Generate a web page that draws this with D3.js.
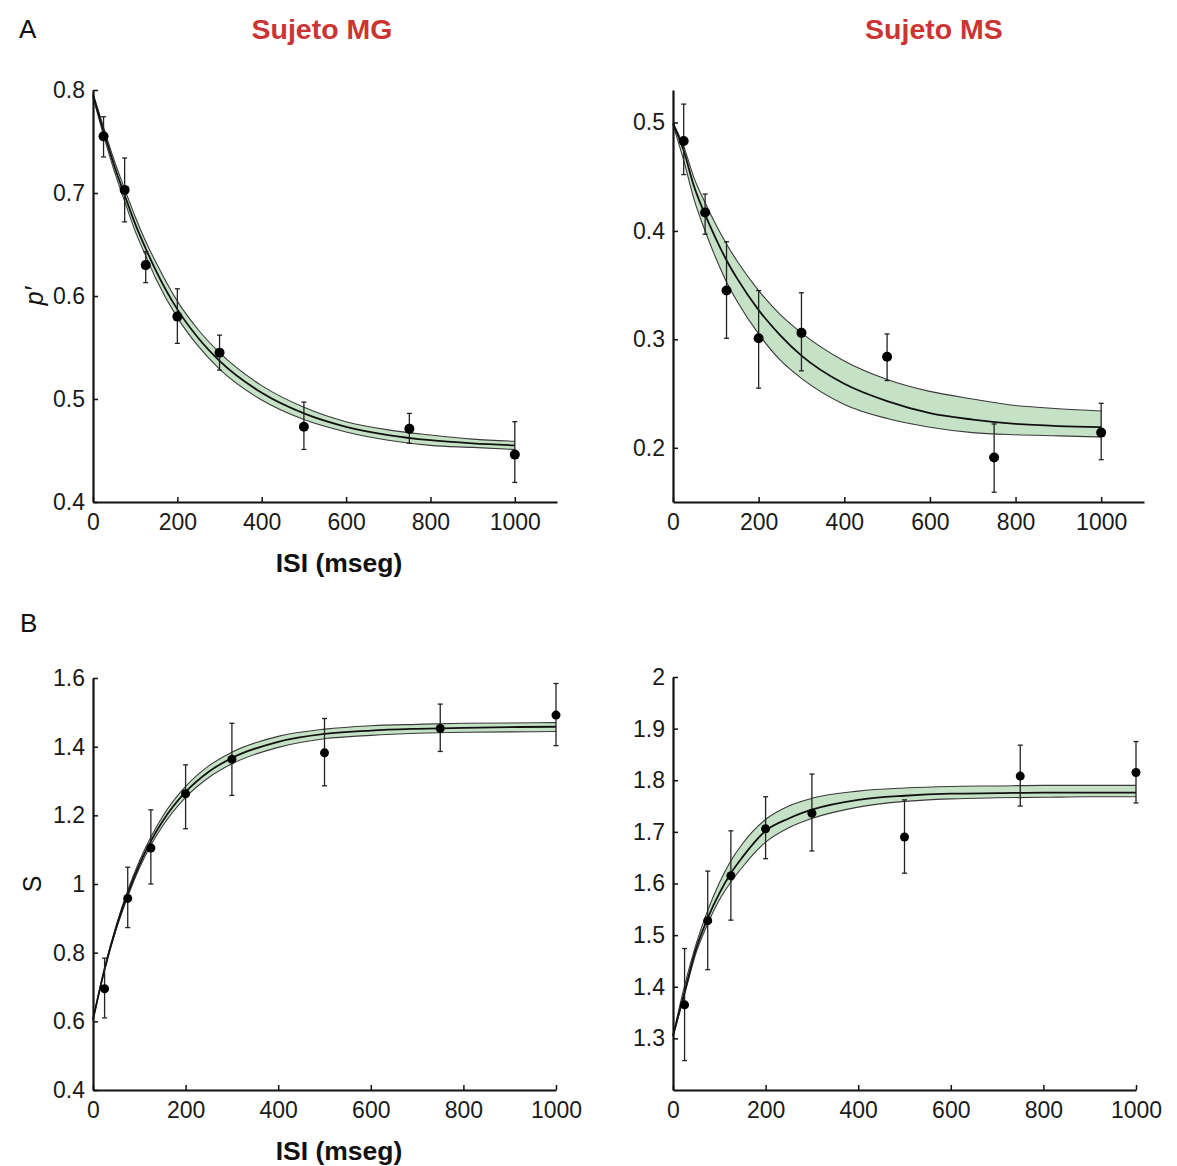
<!DOCTYPE html>
<html>
<head>
<meta charset="utf-8">
<script src="https://cdn.jsdelivr.net/npm/d3@7"></script>
<style>
  body { margin: 0; background: #fff; }
  svg { font-family: "Liberation Sans", Arial, sans-serif; }
</style>
</head>
<body>
<svg id="chart" width="1177" height="1166"></svg>
<script>
// ISI values of the measured points (mseg)
const isi = [25, 75, 125, 200, 300, 500, 750, 1000];
const fitIsi = [0, 25, 50, 75, 100, 125, 150, 200, 250, 300, 400, 500, 600, 700, 800, 900, 1000];
const xTicks = [0, 200, 400, 600, 800, 1000];

// Sujeto MG, p'
const mgPMean = [0.755, 0.703, 0.630, 0.580, 0.545, 0.473, 0.471, 0.446];
const mgPLo = [0.735, 0.672, 0.613, 0.554, 0.528, 0.451, 0.457, 0.419];
const mgPHi = [0.774, 0.734, 0.643, 0.607, 0.562, 0.497, 0.486, 0.478];
const mgPFit = [0.795, 0.760, 0.727, 0.698, 0.670, 0.646, 0.624, 0.587, 0.559, 0.537, 0.506, 0.486, 0.473, 0.465, 0.460, 0.457, 0.455];
const mgPFitHi = [0.797, 0.764, 0.732, 0.704, 0.677, 0.653, 0.632, 0.595, 0.567, 0.545, 0.513, 0.492, 0.478, 0.470, 0.465, 0.461, 0.459];
const mgPFitLo = [0.793, 0.756, 0.722, 0.692, 0.663, 0.639, 0.616, 0.579, 0.551, 0.529, 0.499, 0.480, 0.468, 0.460, 0.455, 0.453, 0.451];
const mgPTicks = [0.4, 0.5, 0.6, 0.7, 0.8];

// Sujeto MS, p'
const msPMean = [0.483, 0.417, 0.345, 0.301, 0.306, 0.284, 0.191, 0.214];
const msPLo = [0.452, 0.397, 0.301, 0.255, 0.271, 0.262, 0.159, 0.189];
const msPHi = [0.517, 0.434, 0.390, 0.345, 0.343, 0.305, 0.222, 0.241];
const msPFit = [0.499, 0.474, 0.440, 0.415, 0.393, 0.373, 0.356, 0.327, 0.304, 0.285, 0.259, 0.243, 0.232, 0.226, 0.222, 0.220, 0.219];
const msPFitHi = [0.500, 0.478, 0.448, 0.426, 0.406, 0.388, 0.372, 0.345, 0.323, 0.306, 0.280, 0.263, 0.252, 0.245, 0.239, 0.236, 0.234];
const msPFitLo = [0.498, 0.465, 0.428, 0.400, 0.375, 0.353, 0.335, 0.305, 0.281, 0.264, 0.240, 0.227, 0.219, 0.214, 0.212, 0.211, 0.210];
const msPTicks = [0.2, 0.3, 0.4, 0.5];

// Sujeto MG, S
const mgSMean = [0.695, 0.958, 1.105, 1.263, 1.363, 1.382, 1.453, 1.492];
const mgSLo = [0.610, 0.873, 1.000, 1.161, 1.258, 1.286, 1.386, 1.403];
const mgSHi = [0.784, 1.049, 1.216, 1.347, 1.468, 1.482, 1.524, 1.584];
const mgSFit = [0.605, 0.752, 0.873, 0.972, 1.056, 1.125, 1.182, 1.268, 1.327, 1.367, 1.414, 1.437, 1.447, 1.452, 1.455, 1.457, 1.458];
const mgSFitHi = [0.607, 0.756, 0.879, 0.981, 1.066, 1.137, 1.196, 1.284, 1.344, 1.384, 1.430, 1.451, 1.461, 1.465, 1.468, 1.469, 1.470];
const mgSFitLo = [0.603, 0.748, 0.867, 0.963, 1.046, 1.113, 1.168, 1.252, 1.310, 1.350, 1.398, 1.423, 1.433, 1.439, 1.442, 1.443, 1.444];
const mgSTicks = [0.4, 0.6, 0.8, 1, 1.2, 1.4, 1.6];

// Sujeto MS, S
const msSMean = [1.365, 1.528, 1.615, 1.706, 1.736, 1.690, 1.808, 1.815];
const msSLo = [1.257, 1.433, 1.529, 1.648, 1.663, 1.620, 1.750, 1.756];
const msSHi = [1.474, 1.624, 1.702, 1.768, 1.812, 1.762, 1.868, 1.875];
const msSFit = [1.305, 1.390, 1.474, 1.533, 1.581, 1.620, 1.651, 1.702, 1.726, 1.743, 1.762, 1.770, 1.774, 1.775, 1.776, 1.776, 1.776];
const msSFitHi = [1.306, 1.402, 1.483, 1.548, 1.601, 1.644, 1.677, 1.724, 1.750, 1.765, 1.779, 1.785, 1.788, 1.789, 1.790, 1.790, 1.790];
const msSFitLo = [1.304, 1.385, 1.466, 1.522, 1.568, 1.603, 1.632, 1.680, 1.708, 1.726, 1.748, 1.759, 1.764, 1.766, 1.767, 1.768, 1.768];
const msSTicks = [1.3, 1.4, 1.5, 1.6, 1.7, 1.8, 1.9, 2];

const svg = d3.select('#chart');
const bandColor = '#c6e2c6';
const fmt = (v) => String(+v.toFixed(2));

function panel(p) {
    const x = d3.scaleLinear().domain(p.xDomain).range([p.left, p.right]);
    const y = d3.scaleLinear().domain(p.yDomain).range([p.bottom, p.top]);
    const g = svg.append('g');

    const fit = fitIsi.map((d, i) => ({ x: d, c: p.fit[i], lo: p.fitLo[i], hi: p.fitHi[i] }));
    const curve = d3.curveMonotoneX;

    g.append('path')
        .datum(fit)
        .attr('fill', bandColor)
        .attr('d', d3.area().curve(curve).x((d) => x(d.x)).y0((d) => y(d.lo)).y1((d) => y(d.hi)));
    ['lo', 'hi'].forEach((k) => {
        g.append('path')
            .datum(fit)
            .attr('fill', 'none')
            .attr('stroke', '#3a3a3a')
            .attr('stroke-width', 1.1)
            .attr('d', d3.line().curve(curve).x((d) => x(d.x)).y((d) => y(d[k])));
    });
    g.append('path')
        .datum(fit)
        .attr('fill', 'none')
        .attr('stroke', '#111')
        .attr('stroke-width', 1.8)
        .attr('d', d3.line().curve(curve).x((d) => x(d.x)).y((d) => y(d.c)));

    const pts = isi.map((d, i) => ({ x: d, m: p.mean[i], lo: p.lo[i], hi: p.hi[i] }));
    const bars = g.selectAll('g.err').data(pts).join('g').attr('class', 'err');
    bars.append('line')
        .attr('x1', (d) => x(d.x)).attr('x2', (d) => x(d.x))
        .attr('y1', (d) => y(d.lo)).attr('y2', (d) => y(d.hi))
        .attr('stroke', '#222').attr('stroke-width', 1.3);
    ['lo', 'hi'].forEach((k) => {
        bars.append('line')
            .attr('x1', (d) => x(d.x) - 2.5).attr('x2', (d) => x(d.x) + 2.5)
            .attr('y1', (d) => y(d[k])).attr('y2', (d) => y(d[k]))
            .attr('stroke', '#222').attr('stroke-width', 1.3);
    });
    bars.append('circle')
        .attr('cx', (d) => x(d.x)).attr('cy', (d) => y(d.m))
        .attr('r', p.r).attr('fill', '#000');

    const xAxis = g.append('g')
        .attr('transform', `translate(0,${p.bottom})`)
        .call(d3.axisBottom(x).tickValues(xTicks).tickFormat(d3.format('d'))
            .tickSizeInner(-5).tickSizeOuter(0).tickPadding(12));
    const yAxis = g.append('g')
        .attr('transform', `translate(${p.left},0)`)
        .call(d3.axisLeft(y).tickValues(p.yTicks).tickFormat(fmt).tickSizeInner(-5).tickSizeOuter(0).tickPadding(8));
    [xAxis, yAxis].forEach((a) => {
        a.select('.domain').attr('stroke', '#111').attr('stroke-width', 2.2);
        a.selectAll('.tick line').attr('stroke', '#111').attr('stroke-width', 1.5);
        a.selectAll('.tick text').attr('fill', '#1a1a1a').style('font-size', '23px');
    });
}

panel({ left: 93, right: 557, top: 90, bottom: 502, xDomain: [0, 1100], yDomain: [0.4, 0.8],
    mean: mgPMean, lo: mgPLo, hi: mgPHi, fit: mgPFit, fitLo: mgPFitLo, fitHi: mgPFitHi, yTicks: mgPTicks, r: 5 });
panel({ left: 673, right: 1144, top: 90, bottom: 502, xDomain: [0, 1100], yDomain: [0.15, 0.53],
    mean: msPMean, lo: msPLo, hi: msPHi, fit: msPFit, fitLo: msPFitLo, fitHi: msPFitHi, yTicks: msPTicks, r: 5 });
panel({ left: 93, right: 556, top: 678, bottom: 1090, xDomain: [0, 1000], yDomain: [0.4, 1.6],
    mean: mgSMean, lo: mgSLo, hi: mgSHi, fit: mgSFit, fitLo: mgSFitLo, fitHi: mgSFitHi, yTicks: mgSTicks, r: 4.5 });
panel({ left: 673, right: 1136, top: 677, bottom: 1090, xDomain: [0, 1000], yDomain: [1.2, 2],
    mean: msSMean, lo: msSLo, hi: msSHi, fit: msSFit, fitLo: msSFitLo, fitHi: msSFitHi, yTicks: msSTicks, r: 4.5 });

// titles and labels
const text = (t, x, y, opts = {}) => svg.append('text')
    .attr('x', x).attr('y', y)
    .attr('text-anchor', opts.anchor || 'middle')
    .attr('fill', opts.color || '#111')
    .attr('transform', opts.rotate ? `rotate(-90,${x},${y})` : null)
    .style('font-size', opts.size || '24px')
    .style('font-weight', opts.bold ? 'bold' : 'normal')
    .style('font-style', opts.italic ? 'italic' : 'normal')
    .text(t);

text('A', 19, 38, { anchor: 'start', size: '26px' });
text('B', 20, 632, { anchor: 'start', size: '26px' });
text('Sujeto MG', 322, 39, { color: '#cc3333', bold: true, size: '28.5px' });
text('Sujeto MS', 934, 39, { color: '#cc3333', bold: true, size: '28.5px' });
text('ISI (mseg)', 339, 572, { bold: true, size: '26.5px' });
text('ISI (mseg)', 339, 1160, { bold: true, size: '26.5px' });
text('p′', 43, 296, { rotate: true, italic: true, size: '25px' });
text('S', 41, 884, { rotate: true, size: '25px' });
</script>
</body>
</html>
